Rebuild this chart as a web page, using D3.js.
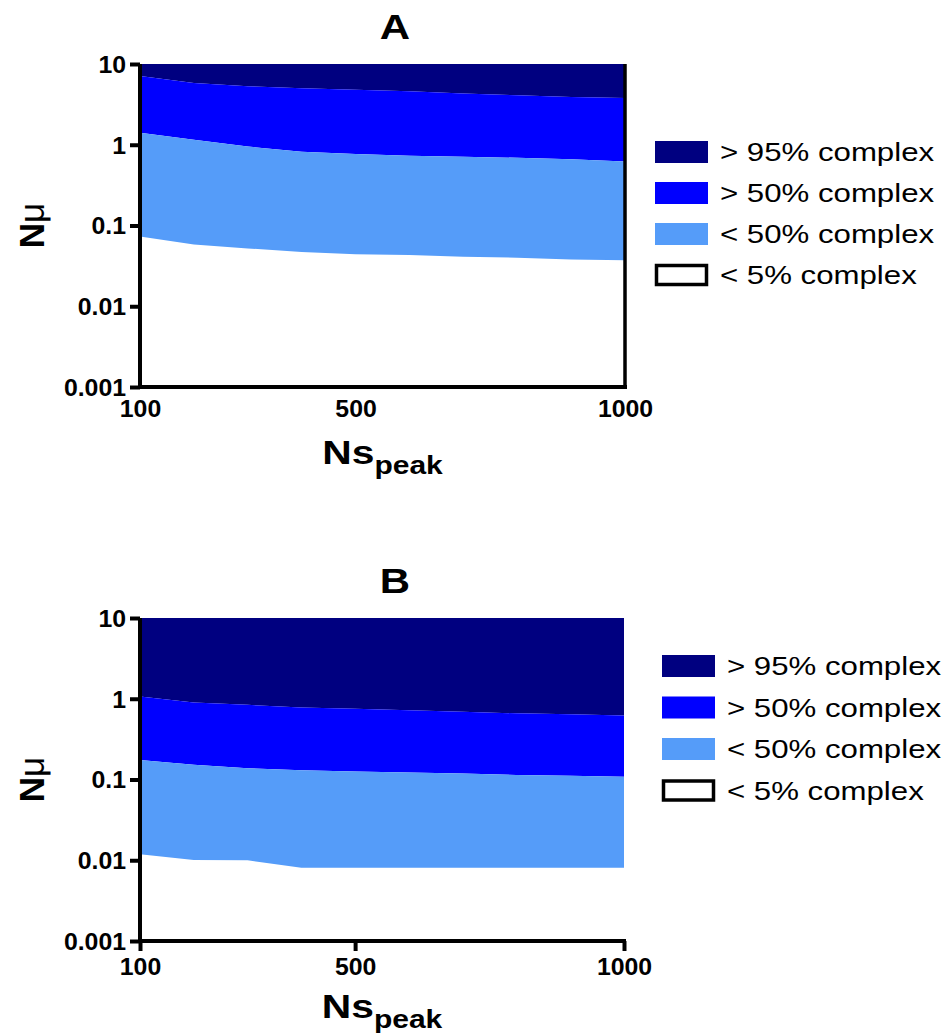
<!DOCTYPE html>
<html>
<head>
<meta charset="utf-8">
<script src="https://cdn.jsdelivr.net/npm/d3@7"></script>
<style>
  body { margin: 0; background: #fff; }
  svg { display: block; font-family: "Liberation Sans", Arial, sans-serif; }
</style>
</head>
<body>
<svg id="chart"></svg>
<script>
// Ns_peak values sampled along the x axis
const nsPeak = [100, 200, 300, 400, 500, 600, 700, 800, 900, 1000];

// Panel A boundaries (N mu)
const aOver95 = [7.1, 5.8, 5.3, 5.0, 4.8, 4.6, 4.3, 4.1, 3.9, 3.8];
const aOver50 = [1.41, 1.15, 0.95, 0.82, 0.77, 0.73, 0.71, 0.69, 0.66, 0.62];
const aUnder5 = [0.073, 0.058, 0.052, 0.047, 0.044, 0.043, 0.041, 0.040, 0.038, 0.037];

// Panel B boundaries (N mu)
const bOver95 = [1.07, 0.90, 0.84, 0.78, 0.75, 0.72, 0.69, 0.66, 0.645, 0.62];
const bOver50 = [0.175, 0.152, 0.138, 0.130, 0.126, 0.122, 0.119, 0.114, 0.111, 0.108];
const bUnder5 = [0.0119, 0.0101, 0.0100, 0.0081, 0.0081, 0.0081, 0.0081, 0.0081, 0.0081, 0.0081];

const yTicks = [10, 1, 0.1, 0.01, 0.001];
const xTicks = [100, 500, 1000];
const legendLabels = ["> 95% complex", "> 50% complex", "< 50% complex", "< 5% complex"];
const zoneColors = ["#000080", "#0000ff", "#559cf9", "#ffffff"];

const W = 947, H = 1036;
const stretch = 1.2; // the source figure is a bit wide
const tickStretch = 1.08;

const svg = d3.select("#chart").attr("width", W).attr("height", H);
svg.append("rect").attr("width", W).attr("height", H).attr("fill", "#fff");

function drawPanel(opt) {
  const x = d3.scaleLinear().domain([100, 1000]).range([opt.left, opt.right]);
  const y = d3.scaleLog().domain([0.001, 10]).range([opt.bottom, opt.top]);
  const g = svg.append("g");

  const rows = nsPeak.map((n, i) => ({ n, top: 10, b95: opt.b95[i], b50: opt.b50[i], b5: opt.b5[i] }));
  const bands = [["top", "b95"], ["b95", "b50"], ["b50", "b5"]];
  bands.forEach((b, i) => {
    const area = d3.area()
      .x((d) => x(d.n))
      .y0((d) => y(d[b[1]]))
      .y1((d) => y(d[b[0]]));
    g.append("path").datum(rows).attr("d", area).attr("fill", zoneColors[i]);
  });

  // y axis
  const yAxis = g.append("g")
    .attr("transform", `translate(${opt.left},0)`)
    .call(d3.axisLeft(y).tickValues(yTicks).tickSize(10).tickSizeOuter(0)
      .tickFormat((d) => String(d)));
  // x axis
  const xAxis = g.append("g")
    .attr("transform", `translate(0,${opt.bottom})`)
    .call(d3.axisBottom(x).tickValues(xTicks).tickSize(opt.xTickLen).tickSizeOuter(0)
      .tickFormat((d) => String(d)));

  [yAxis, xAxis].forEach((a) => {
    a.select(".domain").attr("stroke", "#000").attr("stroke-width", 4);
    a.selectAll(".tick line").attr("stroke", "#000").attr("stroke-width", 4);
    a.selectAll(".tick text")
      .attr("fill", "#000")
      .attr("transform", `scale(${tickStretch},1)`)
      .style("font-size", "23px")
      .style("font-weight", "bold")
      .style("font-family", "'Liberation Sans', Arial, sans-serif");
  });
  yAxis.select(".domain").attr("d", `M0,${opt.bottom + 2}V${opt.top}`);
  xAxis.select(".domain").attr("d", `M${opt.left - 2},0H${opt.right + 2}`);
  yAxis.selectAll(".tick text")
    .attr("x", -14 / tickStretch)
    .attr("dy", "0.36em");
  xAxis.selectAll(".tick text")
    .attr("y", opt.xLabelY)
    .attr("dy", "0.71em");

  if (opt.rightLine) {
    g.append("line")
      .attr("x1", opt.right).attr("x2", opt.right)
      .attr("y1", opt.top).attr("y2", opt.bottom + 2)
      .attr("stroke", "#000").attr("stroke-width", 3.5);
  }

  // title
  g.append("text")
    .attr("transform", `translate(${opt.titleX},${opt.top - 25}) scale(${stretch},1)`)
    .attr("text-anchor", "middle")
    .style("font-size", "35px").style("font-weight", "bold")
    .text(opt.title);

  // x label
  const xl = g.append("text")
    .attr("transform", `translate(${(opt.left + opt.right) / 2},${opt.bottom + 77}) scale(${stretch},1)`)
    .attr("text-anchor", "middle")
    .style("font-weight", "bold");
  xl.append("tspan").style("font-size", "34px").text("Ns");
  xl.append("tspan").attr("dy", 10).style("font-size", "25px").text("peak");

  // y label
  const yl = g.append("text")
    .attr("transform", `translate(44,${(opt.top + opt.bottom) / 2}) rotate(-90)`)
    .attr("text-anchor", "middle")
    .style("font-size", "35px").style("font-weight", "bold");
  yl.append("tspan").text("N");
  yl.append("tspan").style("font-weight", "normal").text("\u03bc");

  // legend
  const lg = g.append("g").attr("transform", `translate(${opt.legX},${opt.legY})`);
  legendLabels.forEach((lab, i) => {
    const row = lg.append("g").attr("transform", `translate(0,${i * opt.legStep})`);
    const isWhite = i === 3;
    row.append("rect")
      .attr("x", isWhite ? 1.5 : 0).attr("y", isWhite ? -9.5 : -11)
      .attr("width", isWhite ? 50 : 53).attr("height", isWhite ? 19 : 22)
      .attr("fill", zoneColors[i])
      .attr("stroke", isWhite ? "#000" : "none")
      .attr("stroke-width", 3.5);
    row.append("text")
      .attr("transform", `translate(${opt.legTextDx},9) scale(${stretch},1)`)
      .style("font-size", "26px")
      .text(lab);
  });
}

drawPanel({
  title: "A", titleX: 395,
  left: 140, right: 625, top: 64, bottom: 387,
  b95: aOver95, b50: aOver50, b5: aUnder5,
  xTickLen: 0, xLabelY: 14, rightLine: true,
  legX: 655, legY: 152, legStep: 41, legTextDx: 65
});

drawPanel({
  title: "B", titleX: 395,
  left: 140, right: 624, top: 618, bottom: 941,
  b95: bOver95, b50: bOver50, b5: bUnder5,
  xTickLen: 10, xLabelY: 18, rightLine: false,
  legX: 662, legY: 666, legStep: 41.5, legTextDx: 65
});
</script>
</body>
</html>
